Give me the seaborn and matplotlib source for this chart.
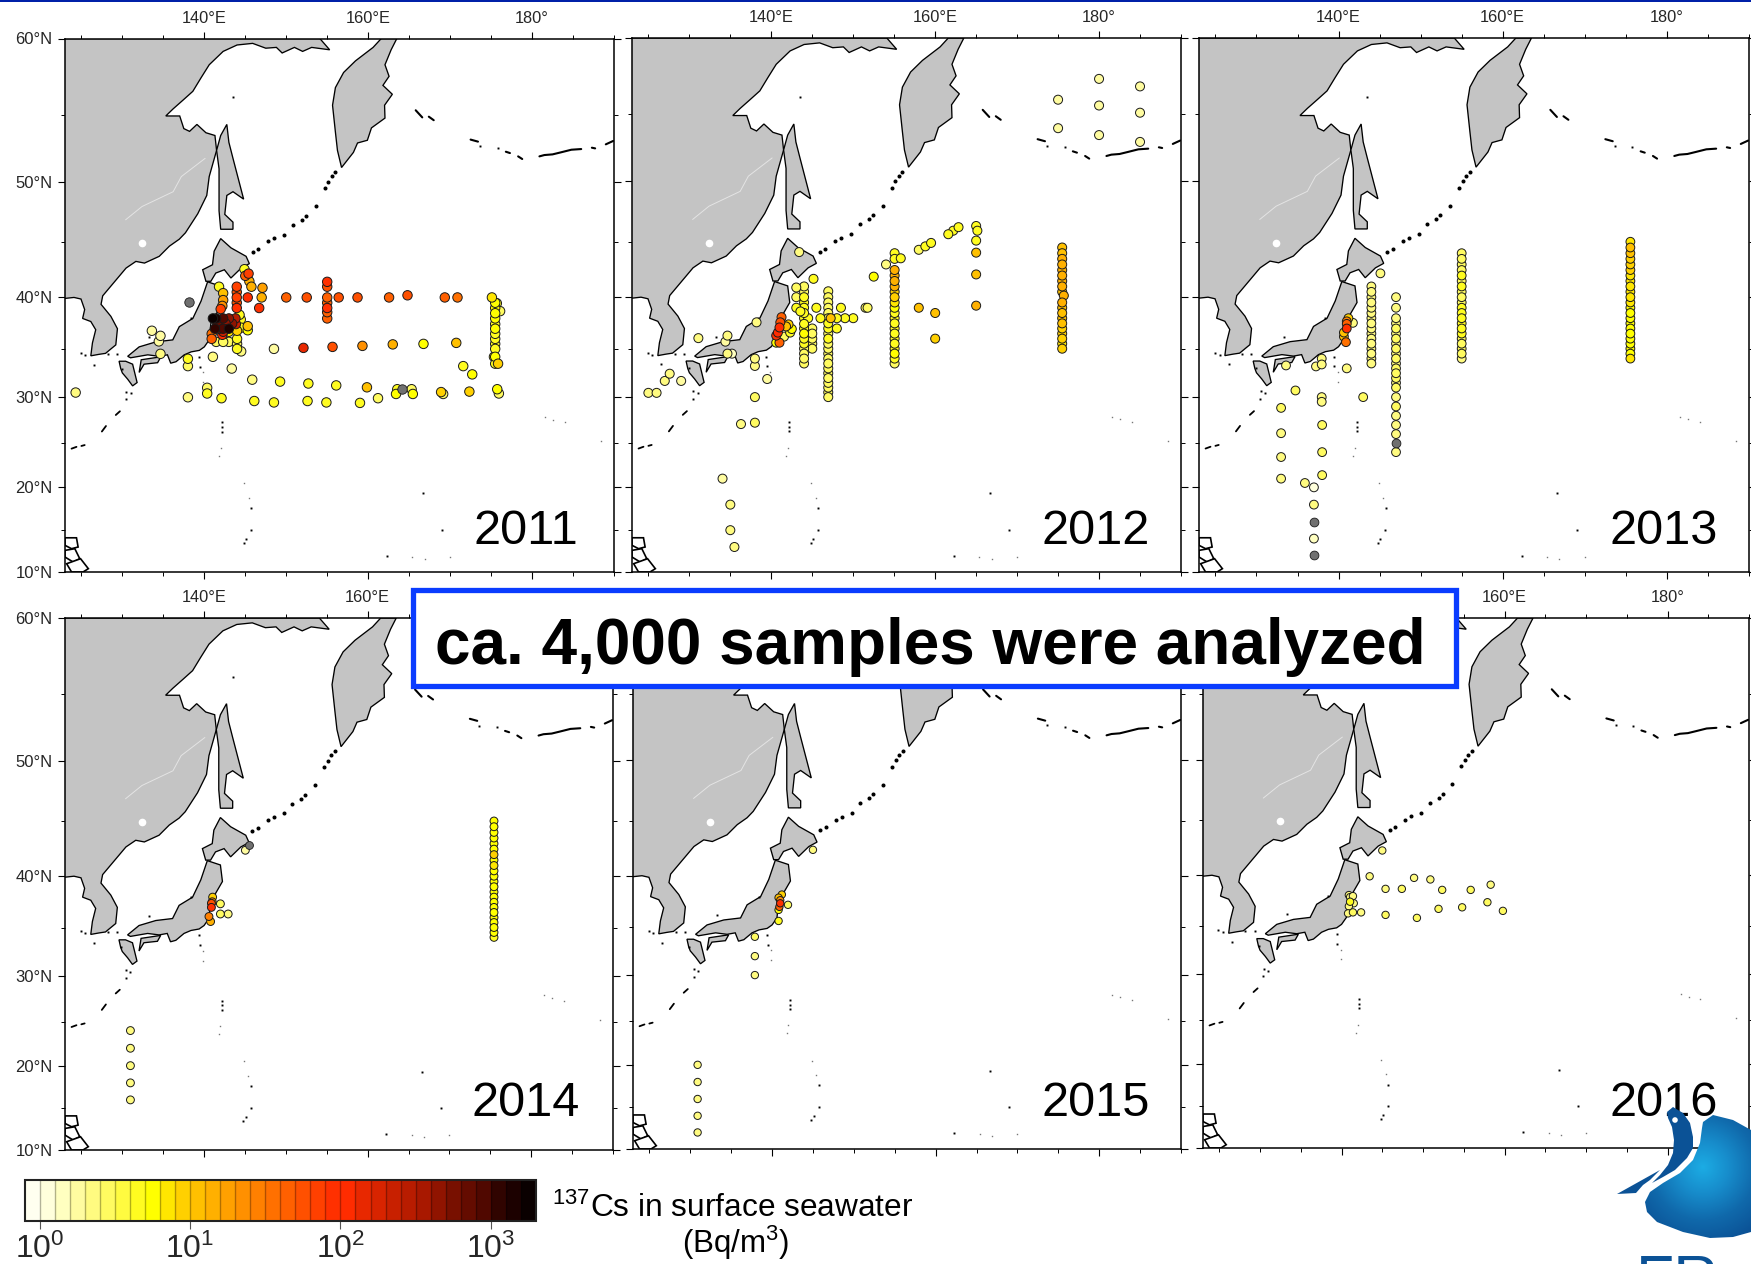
import numpy as np
import pandas as pd
import seaborn as sns
import matplotlib.pyplot as plt
from matplotlib.cm import ScalarMappable
from matplotlib.colors import BoundaryNorm, LinearSegmentedColormap, ListedColormap
from matplotlib.patches import Circle, Polygon, Rectangle

# --- colour scale (one cell per 0.1 decade) ---
cell_colors = ['#fffff0', '#ffffdc', '#ffffc0', '#fffca0', '#fffb80', '#fffb60', '#fffb40', '#fffc20',
               '#ffff00', '#ffe600', '#ffd000', '#ffc000', '#ffb000', '#ffa000', '#ff9000', '#ff8000',
               '#ff7000', '#ff6000', '#ff5000', '#ff4000', '#ff3000', '#ff2c00', '#e82800', '#d82400',
               '#c82000', '#b81c00', '#a81800', '#901400', '#781000', '#640c00', '#500800', '#300400',
               '#1c0100', '#0a0000']
cell_bounds = [0.794, 1, 1.26, 1.58, 2, 2.51, 3.16, 3.98, 5.01, 6.31, 7.94, 10, 12.6, 15.8, 20, 25.1, 31.6,
               39.8, 50.1, 63.1, 79.4, 100, 126, 158, 200, 251, 316, 398, 501, 631, 794, 1000, 1259, 1585, 1995]
bar_ticks = [1, 10, 100, 1000]
bar_ticklabels = ['$\\mathregular{10^{0}}$', '$\\mathregular{10^{1}}$', '$\\mathregular{10^{2}}$', '$\\mathregular{10^{3}}$']

lon_ticks = [140, 160, 180]
lon_ticklabels = ['140°E', '160°E', '180°']
lon_minor = [125, 130, 135, 145, 150, 155, 165, 170, 175, 185, 190]
lat_ticks = [10, 20, 30, 40, 50, 60]
lat_ticklabels = ['10°N', '20°N', '30°N', '40°N', '50°N', '60°N']
lat_minor = [15, 25, 35, 45, 55]

# --- coastlines, lon/lat ---
asia_lon = [120, 120, 122.9, 124.1, 124.95, 125.4, 125.15, 126.15, 126.75, 126.35, 126.15, 127.15, 127.95, 129.2, 129.4, 128.6,
            127.4, 127.6, 129.6, 130.45, 131.65, 132.7, 134.5, 135.75, 136.95, 137.7, 139.2, 140.3,
            140.6, 141.5, 141.3, 140.2, 139.1, 138.2, 137.5, 137, 135.3, 136.2, 137.4, 138.6, 139.6, 140.6,
            142.3, 144, 145.9, 147.5, 148.8, 149.5, 151, 152, 153.1, 155.3, 154.1]
asia_lat = [60, 39.9, 39.9, 40, 39.85, 38.85, 38, 37.7, 36.9, 35.6, 34.3, 34.45, 34.55, 35.4, 37, 38.2,
            39.35, 40.15, 41.95, 42.7, 43.3, 43.15, 43.75, 44.65, 45.25, 45.8, 47.4, 48.9,
            50.4, 52.4, 53.5, 53.7, 54.3, 53.8, 54, 54.9, 54.9, 55.4, 56, 56.6, 57.5, 58.35,
            59.2, 59.6, 59.7, 59.4, 59.45, 59.1, 59.45, 59.2, 59.45, 59.3, 60]
kamchatka_lon = [163.5, 162.8, 162.05, 162.55, 161.8, 162.95, 162, 162.05, 160.4, 159.9, 158.7, 158.2, 156.75, 156.25, 156,
                 155.65, 156, 157, 158.45, 160.6, 161.6]
kamchatka_lat = [60, 59.3, 58.35, 57.6, 57, 56.4, 55.65, 54.75, 54.05, 53.15, 52.95, 52.25, 51.1, 52.4, 53.75,
                 55.65, 56.85, 57.85, 58.6, 59.45, 60]
sakhalin_lon = [142.75, 143, 143.5, 144.8, 143.5, 142.75, 142.5, 143.5, 143.5, 142, 141.8, 141.8, 141.5, 142]
sakhalin_lat = [54.3, 53, 51.8, 48.6, 49.2, 48.9, 47.35, 46.7, 46.1, 46.1, 47.65, 51, 52.4, 53.5]
hokkaido_lon = [142, 143.25, 145.1, 145.5, 144.5, 143.25, 142.45, 141.4, 140.8, 140.2, 139.8, 141, 141.2]
hokkaido_lat = [45.3, 44.5, 43.75, 43.1, 42.7, 41.8, 42.55, 42.25, 41.5, 41.5, 42.55, 43, 44.2]
honshu_lon = [142, 142.25, 141.4, 140.8, 140.6, 140, 139.4, 138.4, 137.55, 136.55, 135.9, 135.5, 134.5, 133.1, 131, 130.65,
              132.05, 134.1, 136.15, 136.95, 138.6, 139.6, 140.4]
honshu_lat = [41.05, 39.5, 38.35, 37.5, 35.9, 35.2, 34.85, 34.7, 34.4, 33.7, 33.55, 34.4, 34.25, 34.4, 34.1, 34.25,
              35.2, 35.7, 35.9, 37.2, 38, 39.65, 41.45]
shikoku_lon = [132.3, 134.7, 134.3, 132.65, 132.05]
shikoku_lat = [33.9, 34.2, 33.6, 33.45, 32.6]
kyushu_lon = [129.6, 130.4, 131.25, 131.8, 131.25, 130.65, 130, 129.8]
kyushu_lat = [33.75, 33.75, 33.45, 31.55, 31.2, 31.9, 32.55, 33]
kuril_lon = [145.9, 146.6, 147.8, 148.55, 149.75, 150.8, 151.9, 152.4, 153.6, 154.7, 155.1, 155.55, 156]
kuril_lat = [44.15, 44.4, 45.05, 45.35, 45.65, 46.5, 46.9, 47.25, 48.05, 49.5, 50, 50.45, 50.75]
aleut_lon = [165.8, 166.6, np.nan, 167.4, 168, np.nan, 172.5, 173.4, np.nan, 176.8, 177.3, np.nan, 178.3, 178.8, np.nan,
             180.9, 181.5, 182.5, 183.5, 184.8, 186, np.nan, 187.3, 187.7, np.nan, 189, 189.9]
aleut_lat = [55.3, 54.8, np.nan, 54.85, 54.6, np.nan, 53.2, 53.05, np.nan, 52.3, 52.2, np.nan, 51.95, 51.75, np.nan,
             51.95, 52.05, 52.1, 52.25, 52.45, 52.5, np.nan, 52.6, 52.55, np.nan, 52.85, 53.1]
ryukyu_lon = [129.7, 129.2, np.nan, 128, 127.5, np.nan, 125.4, 125, np.nan, 124.4, 123.8]
ryukyu_lat = [28.5, 28.1, np.nan, 26.9, 26.3, np.nan, 24.8, 24.7, np.nan, 24.6, 24.4]
dots_lon = [142.2, 142.2, 142.2, 144.8, 145.1, 145.7, 145.75, 166.65, 169, 162.3, 126.6, 129.35, 133.3, 138.4, 128.2, 125.5, 124.9,
            129.9, 130.5, 131, 139.4, 139.5, 130.4, 173.65, 175.8, 143.5]
dots_lat = [27.3, 26.8, 26.3, 13.5, 14, 15, 17.6, 19.3, 15, 11.9, 33.4, 34.5, 36.2, 38, 34.5, 34.4, 34.6,
            33, 30.6, 30.4, 34.2, 33.2, 29.8, 52.7, 52.6, 56.2]
faint_lon = [145.4, 144.9, 165.4, 166.9, 170, 181.6, 182.6, 184, 188.4, 139.9, 139.9, 142, 141.8]
faint_lat = [18.8, 20.5, 11.8, 11.6, 11.8, 27.9, 27.6, 27.3, 25.2, 32.6, 31.6, 24.5, 23.6]
luzon_a_lon = [123, 124.4, 124.6, 123.8, 123]
luzon_a_lat = [14.1, 14.1, 13, 12.8, 13.2]
luzon_b_lon = [123, 124.2, 124.8, 124, 123]
luzon_b_lat = [12.6, 12.8, 11.6, 11.2, 11.8]
luzon_c_lon = [123.2, 124.9, 125.85, 125.2, 123.8]
luzon_c_lat = [11, 11.6, 10.4, 10, 10]
amur_lon = [130.4, 132.4, 136.2, 137.2, 140.1]
amur_lat = [46.9, 48, 49.2, 50.4, 51.8]

# --- 2011 ---
lon_2011 = [145.3, 147, 150, 152.5, 156.4, 158.7, 162.55, 164.8, 169.35, 170.9, 175.1,
            144.9, 145, 145.4, 145.5, 145.75, 147.1, 146.7,
            141.8, 142.3, 142.3, 142.2, 142,
            141.05, 141.45, 142.3, 143, 143.8, 141.3, 141.8, 142.3, 143, 142.3, 143.85, 142.2, 141.6, 142.6, 143.4,
            144.45, 145.3, 145.3, 144.5, 144, 143, 140.9, 140.9, 141.45, 142.3, 143, 144, 144, 144, 144.5, 144.3,
            148.5, 152.1, 155.65, 159.3, 163, 166.75, 170.75,
            175.7, 176.1, 175.85, 175.35, 171.6, 172.7, 172.35,
            145.85, 149.25, 152.7, 156.1, 159.85, 163.4, 163.55, 165.3, 165.45, 168.9, 169.15, 175.75, 175.95,
            138, 140.35, 140.35, 142.1, 146.1, 148.5, 152.6, 154.9, 159, 161.2,
            138, 138, 141.05, 143.35, 124.3, 133.6, 134.65, 134.45, 134.65]
lat_2011 = [40, 40, 40, 40, 40, 40, 40, 40.2, 40, 40, 40,
            42.6, 42, 42.2, 41.5, 41, 40.9, 39,
            41, 40.4, 39.75, 39.2, 38.9,
            38, 38, 38, 38, 38, 37, 37, 37, 37, 36.7, 37.45, 36.4, 37.5, 37.5, 37.5,
            37.9, 37.25, 36.85, 37.1, 36.8, 36.7, 36.5, 36, 35.7, 35.7, 35.7, 36, 35.5, 35, 34.75, 38.35,
            35, 35.1, 35.2, 35.3, 35.45, 35.5, 35.6,
            39.45, 38.7, 33.5, 34.2, 33.25, 32.4, 30.6,
            31.85, 31.65, 31.45, 31.25, 31.05, 30.35, 30.85, 30.85, 30.35, 30.55, 30.35, 30.85, 30.4,
            30, 30.4, 31, 29.9, 29.6, 29.45, 29.6, 29.45, 29.4, 29.9,
            34, 33.25, 34.2, 33, 30.5, 36.8, 36.3, 35.75, 34.5]
cs_2011 = [110, 15, 40, 60, 55, 60, 40, 60, 50, 35, 7,
           5, 40, 70, 14, 14, 18, 90,
           4, 12, 18, 25, 70,
           2000, 1500, 800, 400, 300, 1000, 600, 900, 1500, 250, 200, 100, 700, 500, 400,
           4, 10, 6, 5, 8, 7, 35, 40, 3, 3, 3, 4, 3, 4, 2.5, 4,
           1.8, 130, 60, 25, 15, 6, 10,
           5, 3, 8, 5, 5, 6, 8,
           2.5, 4, 5, 4, 12, 6, 4, 3, 6, 8, 3, 6, 3,
           2.5, 4, 3, 4, 5, 5, 5, 5, 5, 3,
           4, 3, 2, 1.8, 2, 1.7, 1.8, 1.7, 2]
lat_2011_144 = [41, 40.5, 40, 39.5, 39]
cs_2011_144 = [70, 60, 70, 60, 90]
lat_2011_155 = [41.45, 41, 40, 39.5, 39, 38.6, 38]
cs_2011_155 = [80, 60, 50, 50, 80, 50, 40]
lat_2011_175 = [39.5, 39, 38.5, 38, 37.45, 37, 36.5, 36, 35.5, 35, 34.2, 33.5]
cs_2011_175 = [6, 6, 6, 6, 5, 6, 5, 5, 5, 5, 6, 5]
nd_lon_2011 = [138.1, 164.15]
nd_lat_2011 = [39.55, 30.85]

# --- 2012 ---
lon_2012 = [125, 126, 127, 127.6, 129, 131.1, 134.65, 134.4, 134.65, 135.2, 138.2,
            138, 138, 138, 139.5, 136.3, 138, 134.05, 135, 135, 135.5, 143.4, 145.15,
            141.25, 141.1, 141, 140.8, 140.6, 141, 140.6, 142.1, 142.5, 142.3, 141.55, 141.8,
            143.05, 143.05, 143.05, 143.55, 144.5,
            146, 147.25, 148, 149, 150, 145.5, 148.5, 148,
            151.5, 151.75, 152.5, 154, 155.8, 158, 158.8, 159.5, 161.6, 162.2, 162.85,
            165, 165.15, 165, 165, 165, 165, 158, 160, 160,
            175, 175, 180, 180, 180, 185, 185, 185, 175.7]
lat_2012 = [30.45, 30.45, 31.7, 32.45, 31.7, 36.05, 36.3, 35.7, 34.5, 34.5, 37.6,
            34, 33.25, 30, 31.9, 27.1, 27.25, 21, 18, 15, 13, 44.1, 41.7,
            38.1, 37.6, 37.1, 36.6, 36.3, 35.6, 35.6, 37.4, 36.95, 36.6, 36.2, 37.2,
            40.9, 40, 39, 38.65, 38,
            38, 38, 38, 38, 38, 39, 39, 37,
            39, 39, 41.9, 43, 43.55, 44.3, 44.6, 44.9, 45.65, 45.95, 46.25,
            46.35, 45.95, 45.1, 44.05, 42.1, 39.2, 39, 38.5, 36,
            56, 54, 57.4, 55.6, 53.5, 56.9, 55.1, 53, 40.15]
cs_2012 = [2, 2, 2, 2.5, 1.8, 2, 2, 1.7, 2, 1.5, 2,
           2, 2, 3, 1.7, 2, 3, 1.6, 2.5, 2.5, 2, 2, 4,
           40, 60, 110, 100, 90, 45, 6, 8, 6, 4, 3, 12,
           3, 3, 4, 5, 4,
           4, 12, 5, 5, 4, 5, 4, 4,
           3, 3, 6, 2.5, 4, 3, 4, 4, 5, 4, 5,
           5, 5, 4, 10, 10, 15, 10, 10, 8,
           1.8, 1.8, 1.8, 1.8, 1.8, 1.8, 1.8, 1.8, 14]
lat_2012_144 = [41, 40.5, 40, 39.5, 39, 38.5, 38, 37.45, 37, 36.5, 36, 35.5, 35, 34.5, 34, 33.5]
cs_2012_144 = [3, 3, 4, 4, 4, 5, 4, 5, 4, 6, 4, 4, 3, 3, 3, 3]
lat_2012_145 = [37, 36.5, 36, 35.5, 35]
cs_2012_145 = [3, 3, 3, 3, 3]
lat_2012_147 = [40.55, 40, 39.5, 39, 38.5, 38, 37.5, 37, 36.5, 36, 35.5, 35, 34.5, 34, 33.5, 33, 32.5, 32, 31.5, 31, 30.5, 30]
cs_2012_147 = [3, 3, 3, 3, 3, 3, 4, 4, 3, 4, 3, 3, 3, 3, 3, 3, 3, 3, 3, 3, 3, 3]
lat_2012_155 = [44, 43.5, 42.5, 42, 41.5, 41, 40.5, 40, 39.5, 39, 38.5, 38, 37.5, 37, 36.5, 36, 35.5, 35, 34.5, 34, 33.5]
cs_2012_155 = [4, 4, 15, 15, 15, 15, 8, 8, 7, 6, 5, 4, 4, 4, 5, 4, 5, 4, 6, 4, 3]
lat_2012_175 = [44.5, 44, 43.5, 43, 42.5, 42, 41.5, 41, 40.5, 39.5, 39, 38.5, 38, 37.5, 37, 36.5, 36, 35.5, 35]
cs_2012_175 = [12, 12, 14, 14, 14, 15, 14, 14, 10, 14, 12, 12, 10, 10, 8, 8, 9, 7, 9]

# --- 2013 ---
lon_2013 = [145.1, 141.2, 141, 141, 141, 140.65, 140.65, 140.9, 141.75,
            133.6, 137.25, 137.95, 137.95, 141, 134.75, 137.95, 137.95, 143, 133, 133, 133, 133,
            135.9, 137, 138, 138, 138, 137, 137]
lat_2013 = [42.2, 38, 37.7, 37.45, 37, 36.6, 36.2, 35.65, 37.55,
            33.3, 33.2, 34, 33.4, 33, 30.7, 30, 29.5, 30, 28.85, 26.1, 23.45, 21,
            20.5, 20, 27, 24, 21.4, 18, 14]
cs_2013 = [2, 8, 30, 40, 90, 10, 10, 35, 2,
           2, 2, 2.5, 2.5, 2, 3, 2, 2.5, 3, 3, 2, 2, 2,
           2, 1, 3, 3, 3, 2.5, 1.5]
lat_2013_144 = [41, 40.5, 40, 39.5, 39, 38.5, 38, 37.5, 37, 36.5, 36, 35.5, 35, 34.5, 34, 33.5]
cs_2013_144 = [2.5, 2.5, 2.5, 2.5, 2.5, 2.5, 2.5, 2.5, 2.5, 2.5, 2.5, 2.5, 2.5, 2.5, 2.5, 2.5]
lat_2013_147 = [40, 39, 38, 37.5, 37, 36.5, 36, 35.5, 35, 34.5, 34, 33.5, 33, 32.5, 32, 31.5, 31, 30, 29, 28, 27, 26, 24]
cs_2013_147 = [2, 2, 2.5, 2.5, 3, 2.5, 3, 2.5, 3, 2.5, 3, 2.5, 3, 3, 3, 2.5, 3, 2.5, 3, 2, 2.5, 2, 2]
lat_2013_155 = [44, 43.5, 43, 42.5, 42, 41.5, 41, 40.5, 40, 39.5, 39, 38.5, 38, 37.5, 37, 36.5, 36, 35.5, 35, 34.5, 34]
cs_2013_155 = [3, 3, 3, 3, 4, 3, 4, 3, 3, 3, 4, 4, 4, 4, 4, 4, 3, 3, 3, 3, 2.5]
lat_2013_175 = [45, 44.5, 44, 43.5, 43, 42.5, 42, 41.5, 41, 40.5, 40, 39.5, 39, 38.5, 38, 37.5, 37, 36.5, 36, 35.5, 35, 34.5, 34]
cs_2013_175 = [7, 12, 10, 9, 8, 8, 7, 7, 7, 7, 7, 7, 6, 6, 6, 6, 6, 6, 6, 6, 6, 6, 7]
nd_lon_2013 = [147, 137, 137]
nd_lat_2013 = [25, 16, 12]

# --- 2014 ---
lon_2014 = [131, 131, 131, 131, 131, 141.05, 141, 140.9, 140.9, 140.6, 140.8, 142, 142, 142.95, 145.05]
lat_2014 = [24, 22, 20, 18, 16, 38, 37.55, 37.4, 37, 36.1, 35.6, 37.35, 36.35, 36.35, 42.4]
cs_2014 = [2, 2, 2, 2, 2, 8, 25, 60, 90, 30, 14, 3, 3, 2.5, 1.7]
lat_2014_175 = [45, 44.5, 44, 43.5, 43, 42.5, 42, 41.5, 41, 40.5, 40, 39.5, 39, 38.5, 38, 37.5, 37, 36.5, 36, 35.5, 35, 34.5, 34]
cs_2014_175 = [6, 6, 6, 6, 6, 6, 8, 6, 7, 6, 6, 6, 6, 6, 6, 6, 6, 6, 6, 6, 6, 6, 5]
nd_lon_2014 = [145.5]
nd_lat_2014 = [42.9]

# --- 2015 ---
lon_2015 = [130.9, 130.9, 130.9, 130.9, 130.9, 137.9, 137.9, 137.9, 145, 140.8, 141.2, 140.8, 141, 141, 140.9, 140.8, 141.95]
lat_2015 = [20, 18, 16, 14, 12, 34, 32, 30, 42.4, 35.6, 38.2, 37.9, 37.65, 37.35, 37, 36.7, 37.2]
cs_2015 = [2, 2.5, 2.5, 2.5, 2.5, 3, 2, 2, 2.5, 4, 8, 10, 20, 90, 40, 6, 3]

# --- 2016 ---
lon_2016 = [145, 143.45, 145.4, 147.4, 148.9, 150.9, 152.35, 155.85, 158.3, 157.9, 154.8, 151.9, 149.25, 159.8, 145.4, 142.4, 141.4,
            140.9, 141.4, 141.05, 141.05, 141.5, 140.9, 140.8]
lat_2016 = [42.3, 39.9, 38.7, 38.7, 39.75, 39.6, 38.6, 38.6, 39.1, 37.4, 36.9, 36.75, 35.85, 36.55, 36.15, 36.4, 36.4,
            38.1, 38, 37.9, 37.45, 37.3, 37, 36.3]
cs_2016 = [2, 2.5, 2.5, 3, 2.5, 2.5, 3, 3, 2.5, 3, 3, 3, 3, 3, 3, 2.5, 3,
           2.5, 2.5, 2.5, 4, 2.5, 2.5, 2.5]


def track(lon, lats, values):
    return pd.DataFrame({'lon': lon, 'lat': lats, 'cs': values})


def merc(lat):
    lat = np.clip(lat, -85, 85)
    return np.log(np.tan(np.pi / 4 + np.radians(lat) / 2))


def inv_merc(y):
    return np.degrees(2 * np.arctan(np.exp(y)) - np.pi / 2)


samples = {
    2011: pd.concat([track(lon_2011, lat_2011, cs_2011), track(143.96, lat_2011_144, cs_2011_144),
                     track(155, lat_2011_155, cs_2011_155), track(175.5, lat_2011_175, cs_2011_175)]),
    2012: pd.concat([track(lon_2012, lat_2012, cs_2012), track(144, lat_2012_144, cs_2012_144), track(145, lat_2012_145, cs_2012_145),
                     track(146.95, lat_2012_147, cs_2012_147), track(155.05, lat_2012_155, cs_2012_155), track(175.5, lat_2012_175, cs_2012_175)]),
    2013: pd.concat([track(lon_2013, lat_2013, cs_2013), track(144, lat_2013_144, cs_2013_144), track(147, lat_2013_147, cs_2013_147),
                     track(155, lat_2013_155, cs_2013_155), track(175.55, lat_2013_175, cs_2013_175)]),
    2014: pd.concat([track(lon_2014, lat_2014, cs_2014), track(175.45, lat_2014_175, cs_2014_175)]),
    2015: track(lon_2015, lat_2015, cs_2015),
    2016: track(lon_2016, lat_2016, cs_2016),
}
no_detect = {2011: (nd_lon_2011, nd_lat_2011), 2013: (nd_lon_2013, nd_lat_2013), 2014: (nd_lon_2014, nd_lat_2014)}

# pixel boxes of the panels (left, right, top, bottom) and the year label position
W, H = 1751, 1264
panels = {2011: (65, 614, 38.5, 572), 2012: (632, 1181, 38, 572), 2013: (1199, 1749, 38, 572),
          2014: (65, 613, 618, 1150), 2015: (633, 1181, 618, 1149), 2016: (1203, 1749, 618, 1148)}
year_pos = {2011: (526, 531), 2012: (1096, 531), 2013: (1664, 531), 2014: (526, 1103), 2015: (1096, 1104), 2016: (1664, 1104)}
marker_size = {2011: 46, 2012: 42, 2013: 40, 2014: 32, 2015: 28, 2016: 28}

sns.set_theme(style='white')
plt.rcParams['font.family'] = ['Liberation Sans', 'DejaVu Sans']
plt.rcParams['mathtext.fontset'] = 'custom'
plt.rcParams['mathtext.rm'] = 'Liberation Sans'
plt.rcParams['text.color'] = 'black'

cmap = ListedColormap(cell_colors)
norm = BoundaryNorm(cell_bounds, len(cell_colors))

fig = plt.figure(figsize=(W / 100, H / 100), dpi=100)
land_style = dict(facecolor='#c4c4c4', edgecolor='black', linewidth=0.95, zorder=1)

for year, box in panels.items():
    x0, x1, y0, y1 = box
    ax = fig.add_axes([x0 / W, 1 - y1 / H, (x1 - x0) / W, (y1 - y0) / H])
    ax.set_yscale('function', functions=(merc, inv_merc))

    for plon, plat in [(asia_lon, asia_lat), (kamchatka_lon, kamchatka_lat), (sakhalin_lon, sakhalin_lat),
                       (hokkaido_lon, hokkaido_lat), (honshu_lon, honshu_lat), (shikoku_lon, shikoku_lat),
                       (kyushu_lon, kyushu_lat)]:
        ax.fill(plon, plat, **land_style)
    for plon, plat in [(luzon_a_lon, luzon_a_lat), (luzon_b_lon, luzon_b_lat), (luzon_c_lon, luzon_c_lat)]:
        ax.fill(plon, plat, facecolor='white', edgecolor='black', linewidth=1.2, zorder=1)
    ax.plot(amur_lon, amur_lat, color='#e4e4e4', lw=0.7, zorder=1.5)
    ax.plot([132.4], [44.9], 'o', color='white', ms=4.5, zorder=1.5)
    ax.plot(kuril_lon, kuril_lat, 'o', color='black', ms=1.9, zorder=1)
    ax.plot(aleut_lon, aleut_lat, color='black', lw=1.5, zorder=1)
    ax.plot(ryukyu_lon, ryukyu_lat, color='black', lw=1.3, zorder=1)
    ax.plot(dots_lon, dots_lat, 's', color='black', ms=1.4, mew=0, zorder=1)
    ax.plot(faint_lon, faint_lat, 's', color='#777777', ms=1.0, mew=0, zorder=1)

    df = samples[year].sort_values('cs')
    sns.scatterplot(data=df, x='lon', y='lat', hue='cs', hue_norm=norm, palette=cmap, s=marker_size[year],
                    edgecolor='#1a1a1a', linewidth=0.7, legend=False, ax=ax, zorder=3)
    if year in no_detect:
        ax.scatter(*no_detect[year], s=marker_size[year], color='#707070', edgecolor='#1a1a1a', linewidth=0.6, zorder=3)

    ax.set_xlim(123, 190)
    ax.set_ylim(10, 60)
    ax.set_xlabel('')
    ax.set_ylabel('')
    ax.set_xticks(lon_ticks, lon_ticklabels, fontsize=11.8)
    ax.set_xticks(lon_minor, minor=True)
    ax.set_yticks(lat_ticks, lat_ticklabels, fontsize=12)
    ax.set_yticks(lat_minor, minor=True)
    ax.yaxis.set_minor_formatter(plt.NullFormatter())
    ax.tick_params(which='major', top=True, bottom=True, left=True, right=True, labeltop=True, labelbottom=False,
                   labelleft=x0 < 100, direction='out', length=5, width=0.8, pad=4, color='black')
    ax.tick_params(which='minor', top=True, bottom=True, left=True, right=True, direction='out', length=2.8, width=0.7, color='black')
    for spine in ax.spines.values():
        spine.set_color('black')
        spine.set_linewidth(1.1)

# colour bar
cax = fig.add_axes([24.5 / W, 1 - 1221 / H, (536 - 24.5) / W, 41 / H])
cb = fig.colorbar(ScalarMappable(norm=norm, cmap=cmap), cax=cax, orientation='horizontal', spacing='uniform',
                  drawedges=True, ticks=bar_ticks)
cb.dividers.set_color((0, 0, 0, 0.3))
cb.dividers.set_linewidth(1.0)
cb.outline.set_edgecolor('#222222')
cb.outline.set_linewidth(1.5)
cax.minorticks_off()
cax.set_xticklabels(bar_ticklabels, fontsize=23)
cax.tick_params(axis='x', length=6, width=0.8, color='#555555', pad=3)

# overlay in image pixels: years, note box, unit label, logo
ov = fig.add_axes([0, 0, 1, 1], zorder=5)
ov.set_xlim(0, W)
ov.set_ylim(H, 0)
ov.axis('off')
ov.add_patch(Rectangle((0, 0), W, 2, color='#0020a8', lw=0))
for year, (tx, ty) in year_pos.items():
    ov.text(tx, ty, str(year), fontsize=35, ha='center', va='center', color='black')
ov.add_patch(Rectangle((413, 590), 1043, 96, facecolor='white', edgecolor='#0a3cff', linewidth=3.8, zorder=6))
ov.text(930, 647, 'ca. 4,000 samples were analyzed', fontsize=46, fontweight='bold', ha='center', va='center', color='black', zorder=7)
ov.text(733, 1208, '$\\mathregular{^{137}}$Cs in surface seawater', fontsize=22.8, ha='center', va='center', color='black')
ov.text(736, 1243, '(Bq/m$\\mathregular{^{3}}$)', fontsize=22.5, ha='center', va='center', color='black')

# logo
logo_x = [1703, 1713, 1733, 1751, 1757, 1751, 1733, 1710, 1683, 1657, 1647, 1645, 1650, 1663, 1680, 1693, 1700, 1702]
logo_y = [1122, 1115, 1120, 1130, 1230, 1232, 1237, 1238, 1232, 1222, 1212, 1202, 1192, 1183, 1173, 1160, 1143, 1128]
drop = Polygon(list(zip(logo_x, logo_y)), closed=True, facecolor='none', edgecolor='none', zorder=8)
ov.add_patch(drop)
gx, gy = np.meshgrid(np.linspace(1640, 1760, 120), np.linspace(1110, 1240, 130))
grad = np.hypot(gx - 1703, gy - 1167) / 80
blue_ramp = LinearSegmentedColormap.from_list('drop', ['#1cace4', '#178ccb', '#1069ab', '#0b5296'])
img = ov.imshow(grad, extent=(1640, 1760, 1240, 1110), cmap=blue_ramp, vmin=0, vmax=1, interpolation='bilinear', aspect='auto', zorder=8)
img.set_clip_path(drop)
ov.set_xlim(0, W)
ov.set_ylim(H, 0)
bird_x = [1667, 1673, 1683, 1690, 1693, 1693, 1687, 1675, 1663, 1652, 1660, 1668, 1673, 1674, 1672, 1668]
bird_y = [1112, 1107, 1113, 1123, 1137, 1148, 1158, 1170, 1177, 1183, 1175, 1165, 1153, 1140, 1127, 1118]
ov.add_patch(Polygon(list(zip(bird_x, bird_y)), closed=True, color='#0b5296', lw=0, zorder=9))
wing_x = [1617, 1660, 1650, 1643, 1636]
wing_y = [1194, 1170, 1180, 1185, 1193]
ov.add_patch(Polygon(list(zip(wing_x, wing_y)), closed=True, color='#0b5296', lw=0, zorder=9))
ov.add_patch(Circle((1675, 1120), 2.8, color='white', lw=0, zorder=10))
ov.text(1636, 1299, 'FR', fontsize=45, color='#0b5296', ha='left', va='baseline', zorder=9, clip_on=True)

fig.savefig('out.png', dpi=100)
